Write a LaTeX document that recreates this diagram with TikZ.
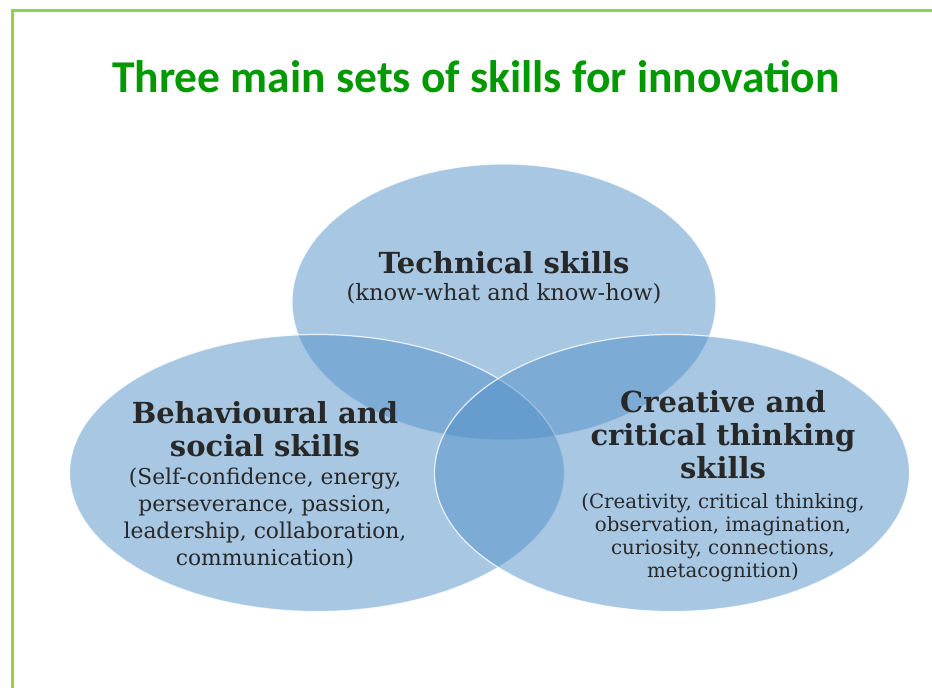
\documentclass[tikz,border=0pt]{standalone}
\usepackage{fontspec}
\setmainfont{DejaVu Serif}
\newfontfamily\titlefont{Carlito}
\usetikzlibrary{positioning, shapes.geometric}
\definecolor{vennblue}{RGB}{81,143,199}
\definecolor{titlegreen}{RGB}{0,153,0}
\definecolor{framegreen}{RGB}{146,208,80}
\definecolor{textgray}{RGB}{40,40,40}

\begin{document}
\begin{tikzpicture}[x=1pt, y=-1pt,
    skillset/.style={ellipse, fill=vennblue, fill opacity=0.5, draw=white, draw opacity=0.8, line width=1.2pt, inner sep=0pt},
    heading/.style={align=center, text=textgray, inner sep=0pt, font=\bfseries\fontsize{29}{33}\selectfont},
    details/.style={align=center, text=textgray, inner sep=0pt, font=\fontsize{21.8}{27}\selectfont}]
    \useasboundingbox (0,0) rectangle (932,688);

    % Frame (only top and left edges show)
    \draw[framegreen, line width=3pt] (12,688) -- (12,10) -- (932,10);

    % Title
    \node[text=titlegreen, font=\titlefont\bfseries\fontsize{45.5}{54}\selectfont] (title) at (476,77) {Three main sets of skills for innovation};

    % The three skill sets
    \node[skillset, minimum width=424pt, minimum height=276pt] (tech) at (504,302) {};
    \node[skillset, minimum width=495pt, minimum height=277pt] (behav) at (317,473) {};
    \node[skillset, minimum width=475pt, minimum height=277pt] (creat) at (672,473) {};

    % Labels
    \node[heading, anchor=base] (techhead) at (504,273) {Technical skills};
    \node[details, font=\fontsize{22.5}{27}\selectfont, below=10pt of techhead] (techtext) {(know-what and know-how)};

    \node[heading, anchor=north] (behavhead) at (265,401) {Behavioural and\\social skills};
    \node[details, below=11pt of behavhead] (behavtext) {(Self-confidence, energy,\\perseverance, passion,\\leadership, collaboration,\\communication)};

    \node[heading, anchor=north] (creathead) at (723,390) {Creative and\\critical thinking\\skills};
    \node[details, font=\fontsize{19.8}{23.3}\selectfont, below=14pt of creathead] (creattext) {(Creativity, critical thinking,\\observation, imagination,\\curiosity, connections,\\metacognition)};
\end{tikzpicture}
\end{document}
